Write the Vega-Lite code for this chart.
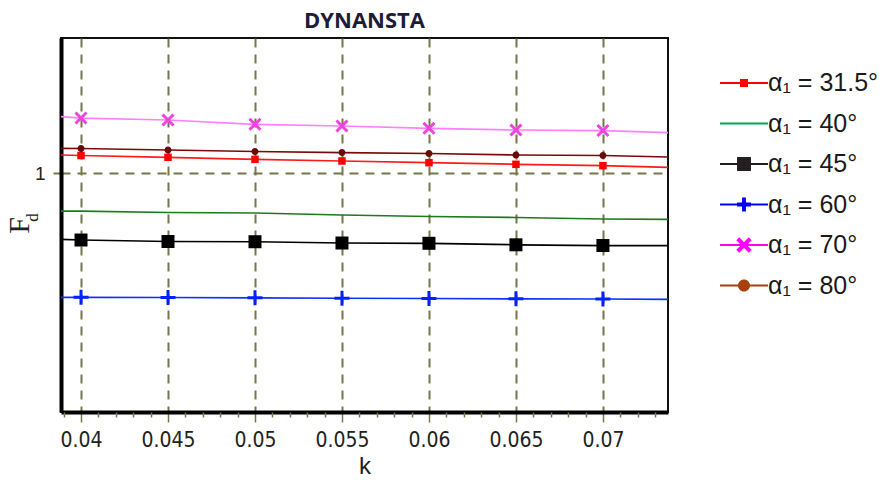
{
  "$schema": "https://vega.github.io/schema/vega-lite/v6.json",
  "width": 607,
  "height": 374,
  "autosize": {"type": "none"},
  "padding": {"left": 61, "top": 38, "right": 228, "bottom": 73},
  "background": "white",
  "title": {
    "text": "DYNANSTA",
    "font": "Open Sans",
    "fontWeight": "bold",
    "fontSize": 22,
    "color": "#1c1c38",
    "anchor": "middle",
    "offset": 5
  },
  "config": {
    "view": {"stroke": "#111111", "strokeWidth": 2}
  },
  "data": {
    "values": [
      {"s": "α₁ = 31.5°", "k": 0.03885, "fd": 1.0388},
      {"s": "α₁ = 31.5°", "k": 0.04, "fd": 1.0377},
      {"s": "α₁ = 31.5°", "k": 0.045, "fd": 1.0339},
      {"s": "α₁ = 31.5°", "k": 0.05, "fd": 1.0297},
      {"s": "α₁ = 31.5°", "k": 0.055, "fd": 1.0262},
      {"s": "α₁ = 31.5°", "k": 0.06, "fd": 1.0226},
      {"s": "α₁ = 31.5°", "k": 0.065, "fd": 1.0192},
      {"s": "α₁ = 31.5°", "k": 0.07, "fd": 1.0163},
      {"s": "α₁ = 31.5°", "k": 0.07374, "fd": 1.0129},
      {"s": "α₁ = 40°", "k": 0.03885, "fd": 0.9209},
      {"s": "α₁ = 40°", "k": 0.04, "fd": 0.9209},
      {"s": "α₁ = 40°", "k": 0.045, "fd": 0.9178},
      {"s": "α₁ = 40°", "k": 0.05, "fd": 0.9167},
      {"s": "α₁ = 40°", "k": 0.055, "fd": 0.9125},
      {"s": "α₁ = 40°", "k": 0.06, "fd": 0.9094},
      {"s": "α₁ = 40°", "k": 0.065, "fd": 0.9073},
      {"s": "α₁ = 40°", "k": 0.07, "fd": 0.9041},
      {"s": "α₁ = 40°", "k": 0.07374, "fd": 0.9035},
      {"s": "α₁ = 45°", "k": 0.03885, "fd": 0.8614},
      {"s": "α₁ = 45°", "k": 0.04, "fd": 0.8599},
      {"s": "α₁ = 45°", "k": 0.045, "fd": 0.8568},
      {"s": "α₁ = 45°", "k": 0.05, "fd": 0.8563},
      {"s": "α₁ = 45°", "k": 0.055, "fd": 0.8536},
      {"s": "α₁ = 45°", "k": 0.06, "fd": 0.853},
      {"s": "α₁ = 45°", "k": 0.065, "fd": 0.8498},
      {"s": "α₁ = 45°", "k": 0.07, "fd": 0.8483},
      {"s": "α₁ = 45°", "k": 0.07374, "fd": 0.8483},
      {"s": "α₁ = 60°", "k": 0.03885, "fd": 0.7393},
      {"s": "α₁ = 60°", "k": 0.04, "fd": 0.7393},
      {"s": "α₁ = 60°", "k": 0.045, "fd": 0.7389},
      {"s": "α₁ = 60°", "k": 0.05, "fd": 0.7383},
      {"s": "α₁ = 60°", "k": 0.055, "fd": 0.7374},
      {"s": "α₁ = 60°", "k": 0.06, "fd": 0.7368},
      {"s": "α₁ = 60°", "k": 0.065, "fd": 0.7362},
      {"s": "α₁ = 60°", "k": 0.07, "fd": 0.7358},
      {"s": "α₁ = 60°", "k": 0.07374, "fd": 0.7351},
      {"s": "α₁ = 70°", "k": 0.03885, "fd": 1.1194},
      {"s": "α₁ = 70°", "k": 0.04, "fd": 1.1166},
      {"s": "α₁ = 70°", "k": 0.045, "fd": 1.1124},
      {"s": "α₁ = 70°", "k": 0.05, "fd": 1.1034},
      {"s": "α₁ = 70°", "k": 0.055, "fd": 1.0998},
      {"s": "α₁ = 70°", "k": 0.06, "fd": 1.095},
      {"s": "α₁ = 70°", "k": 0.065, "fd": 1.0914},
      {"s": "α₁ = 70°", "k": 0.07, "fd": 1.0903},
      {"s": "α₁ = 70°", "k": 0.07374, "fd": 1.0857},
      {"s": "α₁ = 80°", "k": 0.03885, "fd": 1.0529},
      {"s": "α₁ = 80°", "k": 0.04, "fd": 1.0525},
      {"s": "α₁ = 80°", "k": 0.045, "fd": 1.0493},
      {"s": "α₁ = 80°", "k": 0.05, "fd": 1.0462},
      {"s": "α₁ = 80°", "k": 0.055, "fd": 1.044},
      {"s": "α₁ = 80°", "k": 0.06, "fd": 1.042},
      {"s": "α₁ = 80°", "k": 0.065, "fd": 1.0388},
      {"s": "α₁ = 80°", "k": 0.07, "fd": 1.0377},
      {"s": "α₁ = 80°", "k": 0.07374, "fd": 1.0346}
    ]
  },
  "layer": [
    {
      "mark": {"type": "line", "strokeWidth": 1.7, "interpolate": "linear"},
      "encoding": {
        "x": {
          "field": "k",
          "type": "quantitative",
          "scale": {"domain": [0.03885, 0.07374], "nice": false, "zero": false},
          "axis": {
            "title": "k",
            "titleFont": "Liberation Sans",
            "titleFontSize": 24,
            "titleFontWeight": "normal",
            "titleColor": "#222222",
            "titlePadding": 4,
            "values": [0.04, 0.045, 0.05, 0.055, 0.06, 0.065, 0.07],
            "format": "~g",
            "labelFont": "DejaVu Sans Condensed, Liberation Sans, sans-serif",
            "labelFontSize": 21,
            "labelColor": "#222222",
            "labelPadding": 7,
            "labelFlush": false,
            "labelOverlap": false,
            "labelBound": false,
            "domainColor": "#000000",
            "domainWidth": 4,
            "tickColor": "#77774a",
            "tickWidth": 1.5,
            "tickSize": 10,
            "grid": true,
            "gridColor": "#77774a",
            "gridWidth": 2,
            "gridDash": [9, 7]
          }
        },
        "y": {
          "field": "fd",
          "type": "quantitative",
          "scale": {"domain": [0.498, 1.285], "nice": false, "zero": false},
          "axis": {
            "orient": "left",
            "values": [1],
            "title": "F",
            "titleFont": "Liberation Serif",
            "titleFontSize": 30,
            "titleFontWeight": "normal",
            "titleColor": "#222222",
            "titleAngle": 270,
            "titleAlign": "center",
            "titleBaseline": "alphabetic",
            "titleX": -33,
            "titleY": 187,
            "labelFont": "Liberation Sans",
            "labelFontSize": 19,
            "labelColor": "#222222",
            "labelPadding": 8,
            "domainColor": "#000000",
            "domainWidth": 4,
            "tickColor": "#77774a",
            "tickWidth": 2,
            "tickSize": 8,
            "grid": true,
            "gridColor": "#77774a",
            "gridWidth": 2,
            "gridDash": [9, 7]
          }
        },
        "color": {
          "field": "s",
          "type": "nominal",
          "scale": {
            "domain": ["α₁ = 31.5°", "α₁ = 40°", "α₁ = 45°", "α₁ = 60°", "α₁ = 70°", "α₁ = 80°"],
            "range": ["#ff1a1a", "#1e7a1e", "#000000", "#1030ff", "#ff80ff", "#7a0a0a"]
          },
          "legend": {
            "orient": "none",
            "direction": "vertical",
            "legendX": 659,
            "legendY": 21,
            "title": null,
            "padding": 0,
            "symbolSize": 2304,
            "symbolStrokeWidth": 0,
            "labelFont": "Liberation Sans",
            "labelFontSize": 25,
            "labelColor": "#1a1a1a",
            "labelOffset": 0,
            "rowPadding": 3.5,
            "encode": {
              "symbols": {
                "update": {
                  "shape": {"signal": "['M-1,-0.042H1V0.042H-1Z M-0.167,-0.167H0.167V0.167H-0.167Z', 'M-1,-0.042H1V0.042H-1Z', 'M-1,-0.042H1V0.042H-1Z M-0.29,-0.29H0.29V0.29H-0.29Z', 'M-1,-0.042H1V0.042H-1Z M-0.29,-0.08H0.29V0.08H-0.29Z M-0.08,-0.29H0.08V0.29H-0.08Z', 'M-1,-0.042H1V0.042H-1Z M-0.319,-0.201L-0.201,-0.319L0.319,0.201L0.201,0.319Z M0.319,-0.201L-0.201,0.319L-0.319,0.201L0.201,-0.319Z', 'M-1,-0.042H1V0.042H-1Z M-0.25,0A0.25,0.25,0,1,1,0.25,0A0.25,0.25,0,1,1,-0.25,0Z'][datum.index]"},
                  "fill": {"signal": "['#ff0000', '#00a651', '#231f20', '#0000ff', '#ff00ff', '#a6400e'][datum.index]"},
                  "stroke": {"value": "transparent"},
                  "strokeWidth": {"value": 0},
                  "opacity": {"value": 1}
                }
              }
            }
          }
        }
      }
    },
    {
      "transform": [
        {"filter": "datum.k >= 0.0399 && datum.k <= 0.0701 && datum.s !== 'α₁ = 40°'"}
      ],
      "mark": {"type": "point", "filled": true, "opacity": 1, "strokeWidth": 0, "size": 225},
      "encoding": {
        "x": {
          "field": "k",
          "type": "quantitative",
          "scale": {"domain": [0.03885, 0.07374], "nice": false, "zero": false},
          "axis": {
            "orient": "bottom",
            "title": null,
            "values": [0.039, 0.041, 0.042, 0.043, 0.044, 0.046, 0.047, 0.048, 0.049, 0.051, 0.052, 0.053, 0.054, 0.056, 0.057, 0.058, 0.059, 0.061, 0.062, 0.063, 0.064, 0.066, 0.067, 0.068, 0.069, 0.071, 0.072, 0.073],
            "labels": false,
            "domain": false,
            "grid": false,
            "ticks": true,
            "tickColor": "#77774a",
            "tickWidth": 1.5,
            "tickSize": 5,
            "offset": 0
          }
        },
        "y": {
          "field": "fd",
          "type": "quantitative",
          "scale": {"domain": [0.498, 1.285], "nice": false, "zero": false},
          "axis": {
            "orient": "left",
            "title": "d",
            "titleFont": "Liberation Serif",
            "titleFontSize": 17,
            "titleFontWeight": "normal",
            "titleColor": "#222222",
            "titleAngle": 270,
            "titleAlign": "center",
            "titleBaseline": "alphabetic",
            "titleX": -24,
            "titleY": 179,
            "labels": false,
            "ticks": false,
            "domain": false,
            "grid": false
          }
        },
        "shape": {
          "field": "s",
          "type": "nominal",
          "scale": {
            "domain": ["α₁ = 31.5°", "α₁ = 45°", "α₁ = 60°", "α₁ = 70°", "α₁ = 80°"],
            "range": [
              "M-0.5,-0.5H0.5V0.5H-0.5Z",
              "M-0.867,-0.867H0.867V0.867H-0.867Z",
              "M-1,-0.2H1V0.2H-1Z M-0.2,-1H0.2V1H-0.2Z",
              "M-0.874,-0.592L-0.592,-0.874L0.874,0.592L0.592,0.874Z M0.874,-0.592L-0.592,0.874L-0.874,0.592L0.592,-0.874Z",
              "M-0.467,0A0.467,0.467,0,1,1,0.467,0A0.467,0.467,0,1,1,-0.467,0Z"
            ]
          },
          "legend": null
        },
        "fill": {
          "field": "s",
          "type": "nominal",
          "scale": {
            "domain": ["α₁ = 31.5°", "α₁ = 45°", "α₁ = 60°", "α₁ = 70°", "α₁ = 80°"],
            "range": ["#ff0000", "#000000", "#0022ff", "#ee44dd", "#6a0a0a"]
          },
          "legend": null
        }
      }
    }
  ],
  "resolve": {"scale": {"x": "independent", "y": "independent"}}
}
